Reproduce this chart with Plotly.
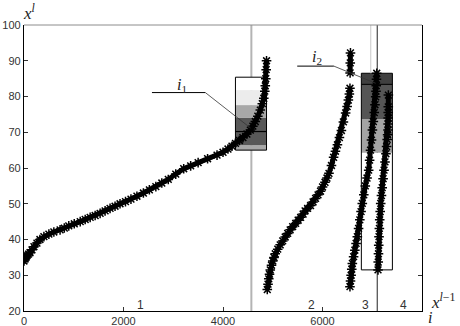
import plotly.graph_objects as go

# ---- data ----
s1_i = [0, 20, 40, 60, 90, 120, 160, 200, 260, 320, 400, 500, 600, 725, 810, 900, 1010, 1130,
        1230, 1330, 1430, 1530, 1630, 1730, 1830, 1930, 2040, 2150, 2270, 2400, 2520, 2650,
        2770, 2900, 3050, 3210, 3350, 3500, 3690, 3880, 4000, 4100, 4180, 4250, 4330, 4400,
        4480, 4550, 4600, 4650, 4700, 4750, 4790, 4820, 4840, 4850, 4860, 4868, 4875]
s1_v = [34, 34.5, 35, 35.5, 35.9, 36.3, 37.1, 38, 39, 40, 40.8, 41.5, 42.1, 42.7, 43.2, 43.8,
        44.4, 45, 45.6, 46.2, 46.7, 47.3, 48, 48.7, 49.3, 50, 50.6, 51.3, 52.1, 53, 53.9, 54.8,
        55.8, 56.8, 58.3, 59.8, 60.6, 61.5, 62.6, 63.6, 64.4, 65.3, 66.1, 66.9, 67.7, 68.5,
        69.5, 70.6, 71.7, 73, 74.5, 76.2, 78, 79.5, 81.5, 83, 85, 87.5, 90]

s2_i = [4890, 4905, 4920, 4935, 4950, 4975, 5000, 5025, 5050, 5100, 5150, 5200, 5250, 5300,
        5350, 5400, 5460, 5510, 5560, 5610, 5650, 5700, 5760, 5810, 5860, 5910, 5960, 6000,
        6050, 6090, 6130, 6180, 6223, 6260, 6300, 6340, 6380, 6420, 6465, 6495, 6520, 6540,
        6552, None, 6555, 6558, 6562]
s2_v = [26, 27.5, 29, 30.3, 31.5, 32.8, 34, 35, 36, 37.3, 38.5, 39.6, 40.7, 41.7, 42.7, 43.6,
        44.5, 45.4, 46.2, 47.1, 48, 48.7, 49.5, 50.5, 51.5, 52.5, 53.5, 54.7, 56, 57.2, 58.5,
        60.7, 63, 64.7, 66.5, 68.5, 70.5, 72.9, 75.4, 77.2, 79, 80.7, 82.3, None, 86.6, 89.4, 92.2]

s3_i = [6552, 6563, 6575, 6588, 6600, 6625, 6650, 6675, 6700, 6725, 6750, 6775, 6800, 6830,
        6860, 6895, 6928, 6947, 6965, 6985, 7003, 7022, 7040, 7055, 7069, 7075, 7080, 7085, 7090]
s3_v = [26.8, 28.4, 30, 31.7, 33.3, 35.2, 37, 38.9, 40.8, 43.1, 45.5, 47.8, 50.1, 52.5, 55,
        57.2, 59.4, 62.2, 65, 67.8, 70.6, 73, 75.5, 77.7, 79.9, 81.5, 83, 84.8, 86.5]

s4_i = [7116, 7120, 7125, 7130, 7136, 7143, 7150, 7160, 7170, 7185, 7200, 7218, 7237, 7256,
        7275, 7288, 7300, 7309, 7317, 7319, 7320, 7321, 7322, 7324]
s4_v = [31.5, 33.7, 36, 38.4, 40.8, 43.1, 45.5, 47.8, 50.1, 52.3, 54.5, 57, 59.4, 61.7, 64,
        66, 68, 69.3, 70.6, 72.3, 74, 75.5, 77.1, 80.4]

# interval boxes: [i_left, i_right], band edges (value) and colours
box1_i = [4250, 4875]
box1_edges = [65, 66.4, 74, 77.6, 81.8, 85.4]
box1_cols = ["#a8a8a8", "#585858", "#a8a8a8", "#ececec", "#ffffff"]
box1_mark = 70.2

box2_i = [6781, 7405]
box2_edges = [31.5, 64.3, 73.7, 83.2, 86.5]
box2_cols = ["#ffffff", "#a4a4a4", "#555555", "#404040"]
box2_mark = 83.4

gray_line_i = 4570
black_line_i = 7100
light_line_i = 6970

seg_labels = ["1", "2", "3", "4"]
seg_pos = [2340, 5780, 6870, 7630]
seg_y = 21.8

x_ticks = [0, 2000, 4000, 6000]
y_ticks = [20, 30, 40, 50, 60, 70, 80, 90, 100]

lead1 = [(2572, 81.1), (3645, 81.1), (4552, 71.2)]
lead1_text = (3176, 83.2)
lead2 = [(5492, 88.5), (6229, 88.5), (7069, 83.7)]
lead2_text = (5895, 91.0)

fig = go.Figure()

shapes = []
for k, c in enumerate(box1_cols):
    shapes.append(dict(type="rect", xref="x", yref="y", x0=box1_i[0], x1=box1_i[1],
                       y0=box1_edges[k], y1=box1_edges[k + 1], fillcolor=c,
                       line=dict(width=0), layer="below"))
shapes.append(dict(type="rect", xref="x", yref="y", x0=box1_i[0], x1=box1_i[1],
                   y0=box1_edges[0], y1=box1_edges[-1], line=dict(color="black", width=1),
                   layer="below"))
shapes.append(dict(type="line", xref="x", yref="y", x0=box1_i[0], x1=box1_i[1],
                   y0=box1_mark, y1=box1_mark, line=dict(color="black", width=1.2), layer="below"))
for k, c in enumerate(box2_cols):
    shapes.append(dict(type="rect", xref="x", yref="y", x0=box2_i[0], x1=box2_i[1],
                       y0=box2_edges[k], y1=box2_edges[k + 1], fillcolor=c,
                       line=dict(width=0), layer="below"))
shapes.append(dict(type="rect", xref="x", yref="y", x0=box2_i[0], x1=box2_i[1],
                   y0=box2_edges[0], y1=box2_edges[-1], line=dict(color="black", width=1),
                   layer="below"))
shapes.append(dict(type="line", xref="x", yref="y", x0=box2_i[0], x1=box2_i[1],
                   y0=box2_mark, y1=box2_mark, line=dict(color="black", width=1), layer="below"))
# vertical guide lines
shapes.append(dict(type="line", xref="x", yref="paper", x0=gray_line_i, x1=gray_line_i,
                   y0=0, y1=1, line=dict(color="#b4b4b4", width=2), layer="below"))
shapes.append(dict(type="line", xref="x", yref="y", x0=light_line_i, x1=light_line_i,
                   y0=box2_edges[-1], y1=100, line=dict(color="#c8c8c8", width=1), layer="below"))
shapes.append(dict(type="line", xref="x", yref="paper", x0=black_line_i, x1=black_line_i,
                   y0=0, y1=1, line=dict(color="#222222", width=1), layer="below"))
# leader lines
for lead in (lead1, lead2):
    shapes.append(dict(type="line", xref="x", yref="y", x0=lead[0][0], y0=lead[0][1],
                       x1=lead[1][0], y1=lead[1][1], line=dict(color="black", width=1)))
    shapes.append(dict(type="line", xref="x", yref="y", x0=lead[1][0], y0=lead[1][1],
                       x1=lead[2][0], y1=lead[2][1], line=dict(color="#333333", width=0.8)))
# gray top border
shapes.append(dict(type="line", xref="paper", yref="paper", x0=0, x1=1, y0=1, y1=1,
                   line=dict(color="#8c8c8c", width=1)))

for xi, yv in ((s1_i, s1_v), (s2_i, s2_v), (s3_i, s3_v), (s4_i, s4_v)):
    fig.add_trace(go.Scatter(
        x=xi, y=yv, mode="lines+markers", connectgaps=False,
        line=dict(color="black", width=5),
        marker=dict(symbol="asterisk-open", size=8, color="black",
                    line=dict(color="black", width=1.5)),
        showlegend=False, hoverinfo="skip"))

ann = []
for t, p in zip(seg_labels, seg_pos):
    ann.append(dict(x=p, y=seg_y, xref="x", yref="y", text=t, showarrow=False,
                    xanchor="center", yanchor="middle",
                    font=dict(family="Liberation Sans, Arial", size=12, color="#333")))
serif = "Liberation Serif, DejaVu Serif, serif"
ann.append(dict(x=lead1_text[0], y=lead1_text[1], xref="x", yref="y",
                text="<i>i</i><sub>1</sub>", showarrow=False, xanchor="center", yanchor="middle",
                font=dict(family=serif, size=16, color="#222")))
ann.append(dict(x=lead2_text[0], y=lead2_text[1], xref="x", yref="y",
                text="<i>i</i><sub>2</sub>", showarrow=False, xanchor="center", yanchor="middle",
                font=dict(family=serif, size=16, color="#222")))
ann.append(dict(x=0.015, y=1.045, xref="paper", yref="paper",
                text="<i>x</i><sup><i>l</i></sup>", showarrow=False,
                xanchor="center", yanchor="middle",
                font=dict(family=serif, size=17, color="#222")))
ann.append(dict(x=1.053, y=0.035, xref="paper", yref="paper",
                text="<i>x</i><sup><i>l</i>−1</sup>", showarrow=False,
                xanchor="center", yanchor="middle",
                font=dict(family=serif, size=17, color="#222")))
ann.append(dict(x=1.02, y=-0.022, xref="paper", yref="paper",
                text="<i>i</i>", showarrow=False, xanchor="center", yanchor="middle",
                font=dict(family=serif, size=16, color="#222")))

fig.update_layout(
    width=460, height=326,
    margin=dict(l=24, r=38, t=25, b=15, autoexpand=False),
    paper_bgcolor="white", plot_bgcolor="white",
    shapes=shapes, annotations=ann,
    xaxis=dict(range=[0, 8000], tickvals=x_ticks, ticks="inside", ticklen=4,
               tickcolor="#333", showgrid=False, zeroline=False, showline=True,
               linecolor="black", linewidth=1.2, mirror=False, automargin=False,
               tickfont=dict(family="Liberation Sans, Arial", size=11, color="#333")),
    yaxis=dict(range=[20, 100], tickvals=y_ticks, ticks="inside", ticklen=4,
               tickcolor="#333", showgrid=False, zeroline=False, showline=True,
               linecolor="black", linewidth=1.2, mirror="ticks", automargin=False,
               tickfont=dict(family="Liberation Sans, Arial", size=11, color="#333")),
)

fig.write_html("out.html", config={"displayModeBar": False},
               post_script="document.body.style.margin='0';")
